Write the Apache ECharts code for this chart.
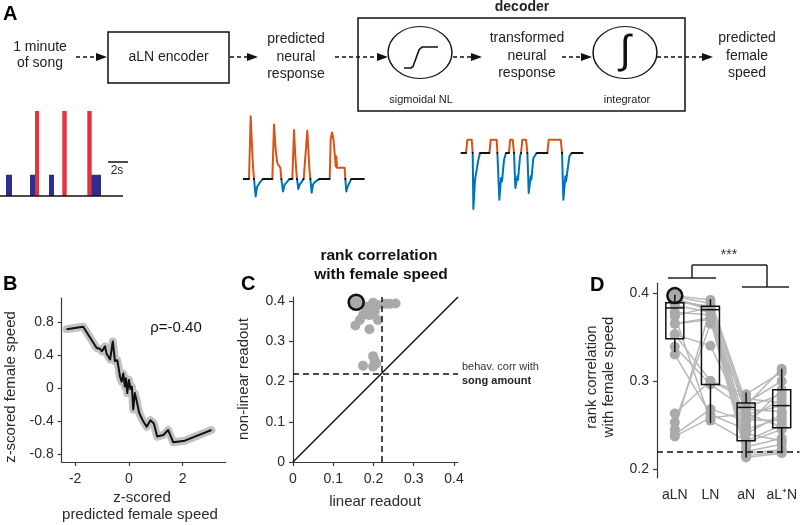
<!DOCTYPE html>
<html>
<head>
<meta charset="utf-8">
<script src="https://cdn.jsdelivr.net/npm/echarts@6.0.0/dist/echarts.min.js"></script>
<style>html,body{margin:0;padding:0;background:#fff;}#chart{width:800px;height:525px;}</style>
</head>
<body>
<div id="chart"></div>
<script>
// ================= DATA =================
// Panel A - song (time in seconds)
const songPulse = [[0.6, 1.2], [3.0, 3.5], [4.9, 5.4], [9.07, 10.1]];
const songSine = [[3.5, 3.9], [6.23, 6.67], [8.73, 9.17]];
const pulseLevel = 0.25;
const sineLevel = 1.0;
const songDuration = 12.3;
const scaleBarSeconds = 2;

// Panel A - predicted neural response (time s, response a.u.)
const neuralT = [0, 0.6, 0.767, 0.9, 1.0, 1.1, 1.267, 1.4, 1.5, 1.667, 2.0, 2.933, 3.1, 3.267, 3.4, 3.5, 3.633, 3.733, 3.833, 4.0, 4.167, 4.333, 4.667, 4.933, 5.1, 5.233, 5.333, 5.4, 5.533, 5.667, 5.833, 6.067, 6.233, 6.433, 6.567, 6.667, 6.733, 6.867, 7.0, 7.167, 7.667, 8.667, 8.767, 8.9, 9.033, 9.167, 9.267, 9.333, 9.4, 10.167, 10.233, 10.333, 10.467, 10.6, 10.833, 12.167];
const neuralV = [0, 0, 1.0, 0.52, 0.20, 0, -0.28, -0.13, -0.11, -0.06, 0, 0, 0.87, 0.47, 0.28, 0.23, 0.20, 0.18, 0, -0.20, -0.09, -0.06, 0, 0, 0.78, 0.36, 0.12, 0, -0.16, -0.09, -0.06, 0, 0, 0.77, 0.36, 0.10, 0, -0.22, -0.09, -0.05, 0, 0, 0.63, 0.74, 0.65, 0.41, 0.20, 0.36, 0.18, 0.18, 0, -0.20, -0.12, -0.09, 0, 0];

// Panel A - transformed neural response
const transT = [0, 0.533, 0.667, 1.1, 1.2, 1.267, 1.433, 1.6, 1.767, 1.933, 2.867, 3.0, 3.6, 3.667, 3.867, 4.033, 4.133, 4.333, 4.533, 4.833, 4.933, 5.2, 5.333, 5.467, 5.667, 5.733, 5.933, 6.033, 6.167, 6.533, 6.667, 6.8, 7.0, 7.067, 7.267, 7.6, 8.667, 8.8, 10.0, 10.133, 10.267, 10.467, 10.533, 10.867, 11.1, 12.267];
const transV = [0, 0, 13.3, 13.3, 0, -56, -26.7, -25, -6.7, 0, 0, 13.3, 13.3, 0, -46.7, -25, -28.3, -6.7, 0, 0, 13.3, 13.3, 0, -35, -23.3, -26.7, -3.3, 0, 13.3, 13.3, 0, -40, -23.3, -26.7, -5, 0, 0, 13.3, 13.3, 0, -46.7, -23.3, -28.3, -3.3, 0, 0];

// Panel B
const bX = [-2.32, -1.70, -1.20, -1.08, -1.00, -0.89, -0.83, -0.70, -0.60, -0.52, -0.43, -0.33, -0.27, -0.21, -0.15, -0.11, -0.06, 0.00, 0.06, 0.11, 0.16, 0.22, 0.28, 0.38, 0.51, 0.66, 0.80, 0.93, 1.05, 1.28, 1.46, 1.65, 2.08, 3.07];
const bY = [0.72, 0.75, 0.49, 0.48, 0.45, 0.51, 0.42, 0.35, 0.57, 0.33, 0.34, 0.14, 0.08, 0.18, 0.02, 0.12, -0.06, 0.10, -0.01, 0.02, -0.26, -0.06, -0.14, -0.30, -0.39, -0.47, -0.39, -0.43, -0.59, -0.57, -0.51, -0.66, -0.64, -0.51];
const bXTicks = [-2, 0, 2];
const bYTicks = [-0.8, -0.4, 0, 0.4, 0.8];
const bRho = 'ρ=-0.40';

// Panel C
const cLinear = [0.157, 0.199, 0.211, 0.228, 0.240, 0.255, 0.182, 0.190, 0.174, 0.190, 0.211, 0.166, 0.155, 0.190, 0.182, 0.203, 0.199, 0.203, 0.174, 0.199, 0.207];
const cNonlinear = [0.397, 0.396, 0.390, 0.393, 0.393, 0.394, 0.386, 0.378, 0.365, 0.365, 0.353, 0.353, 0.339, 0.330, 0.374, 0.374, 0.263, 0.253, 0.239, 0.237, 0.245];
const cTicks = [0, 0.1, 0.2, 0.3, 0.4];
const songAmountCorr = 0.218;

// Panel D
const dCategories = ['aLN', 'LN', 'aN', 'aL⁺N'];
const dALN = cNonlinear;
const dLN = [0.392, 0.388, 0.385, 0.383, 0.381, 0.380, 0.378, 0.375, 0.372, 0.370, 0.340, 0.300, 0.296, 0.262, 0.255, 0.384, 0.300, 0.365, 0.268, 0.258, 0.382];
const dAN = [0.275, 0.270, 0.262, 0.250, 0.240, 0.230, 0.225, 0.220, 0.218, 0.215, 0.256, 0.280, 0.268, 0.245, 0.232, 0.213, 0.285, 0.272, 0.255, 0.263, 0.240];
const dALpN = [0.300, 0.285, 0.272, 0.290, 0.262, 0.245, 0.235, 0.228, 0.222, 0.220, 0.255, 0.275, 0.265, 0.258, 0.250, 0.218, 0.310, 0.314, 0.280, 0.248, 0.232];
const dBoxMin = [0.333, 0.252, 0.213, 0.218];
const dBoxQ1 = [0.348, 0.296, 0.232, 0.247];
const dBoxMed = [0.383, 0.381, 0.270, 0.272];
const dBoxQ3 = [0.389, 0.385, 0.275, 0.290];
const dBoxMax = [0.398, 0.393, 0.287, 0.314];
const dYTicks = [0.2, 0.3, 0.4];
const highlightIndex = 0;

// ================= CHART =================
const FONT = '"Liberation Sans", Arial, Helvetica, sans-serif';
const AX = '#3a3a3a';
const TXT = '#2a2a2a';
const ORANGE = '#D95319', BLUE = '#0072BD';
const PT = '#aaaaaa';

const fmt = v => (Math.abs(v) < 1e-9 ? '0' : String(+v.toFixed(2)));

function valAxis(gi, min, max, ticks, extra) {
  return Object.assign({
    type: 'value', gridIndex: gi, min: min, max: max,
    axisLine: { show: true, onZero: false, lineStyle: { color: AX, width: 1.2 } },
    axisTick: { show: true, inside: false, length: 4, customValues: ticks, lineStyle: { color: AX, width: 1.2 } },
    axisLabel: { show: true, color: TXT, fontSize: 14, fontFamily: FONT, margin: 8, customValues: ticks, formatter: fmt },
    splitLine: { show: false }
  }, extra || {});
}
function hidAxis(gi, min, max) {
  return { type: 'value', gridIndex: gi, min: min, max: max, show: false, splitLine: { show: false } };
}

const grids = [
  { left: 0, top: 111, width: 130, height: 85 },          // song
  { left: 243, top: 110, width: 122, height: 94 },        // neural
  { left: 460.7, top: 133, width: 123, height: 80 },      // transformed
  { left: 61.7, top: 298, width: 164, height: 164 },      // B
  { left: 293, top: 297, width: 165, height: 165 },       // C
  { left: 657, top: 283.3, width: 143, height: 194.5 }    // D
];

const xAxes = [
  hidAxis(0, 0, 13),
  hidAxis(1, 0, 12.2),
  hidAxis(2, 0, 12.3),
  valAxis(3, -2.5, 3.6, bXTicks, { axisLabel: { color: TXT, fontSize: 14, fontFamily: FONT, margin: 10, customValues: bXTicks, formatter: fmt } }),
  valAxis(4, 0, 0.41, cTicks, { axisLabel: { color: TXT, fontSize: 14, fontFamily: FONT, margin: 10, customValues: cTicks, formatter: fmt } }),
  { type: 'category', gridIndex: 5, data: dCategories, axisLine: { show: false }, axisTick: { show: false },
    axisLabel: { color: TXT, fontSize: 14, fontFamily: FONT, margin: 10, interval: 0 }, splitLine: { show: false } }
];
const yAxes = [
  hidAxis(0, 0, 1),
  hidAxis(1, -0.4, 1.1),
  hidAxis(2, -60, 20),
  valAxis(3, -0.9, 1.1, bYTicks),
  valAxis(4, 0, 0.41, cTicks),
  valAxis(5, 0.19, 0.411, dYTicks)
];

const series = [];
function songRect(color) {
  return function (params, api) {
    const p0 = api.coord([api.value(0), 0]);
    const p1 = api.coord([api.value(1), api.value(2)]);
    return { type: 'rect', shape: { x: p0[0], y: p1[1], width: p1[0] - p0[0], height: p0[1] - p1[1] }, style: { fill: color } };
  };
}
series.push({ type: 'custom', xAxisIndex: 0, yAxisIndex: 0, renderItem: songRect('#2c2f8e'), data: songPulse.map(d => [d[0], d[1], pulseLevel]), clip: false });
series.push({ type: 'custom', xAxisIndex: 0, yAxisIndex: 0, renderItem: songRect('#e8313b'), data: songSine.map(d => [d[0], d[1], sineLevel]), clip: false });
series.push({ type: 'line', xAxisIndex: 0, yAxisIndex: 0, data: [[0, 0], [songDuration, 0]], symbol: 'none', clip: false, lineStyle: { color: '#111', width: 1.3 } });
series.push({ type: 'line', xAxisIndex: 0, yAxisIndex: 0, data: [[10.8, 0.4], [10.8 + scaleBarSeconds, 0.4]], symbol: 'none', clip: false, lineStyle: { color: '#111', width: 1.6 } });
const iNeural = series.length;
series.push({ type: 'line', xAxisIndex: 1, yAxisIndex: 1, data: neuralT.map((t, i) => [t, neuralV[i]]), symbol: 'none', clip: false, lineStyle: { width: 2, join: 'round' } });
const iTrans = series.length;
series.push({ type: 'line', xAxisIndex: 2, yAxisIndex: 2, data: transT.map((t, i) => [t, transV[i]]), symbol: 'none', clip: false, lineStyle: { width: 2, join: 'round' } });
// B
series.push({ type: 'line', xAxisIndex: 3, yAxisIndex: 3, data: bX.map((x, i) => [x, bY[i]]), symbol: 'none', lineStyle: { color: '#c2c2c2', width: 8, join: 'round', cap: 'round' } });
series.push({ type: 'line', xAxisIndex: 3, yAxisIndex: 3, data: bX.map((x, i) => [x, bY[i]]), symbol: 'none', lineStyle: { color: '#111', width: 2, join: 'round' } });
// C
series.push({ type: 'line', xAxisIndex: 4, yAxisIndex: 4, data: [[0, 0], [0.41, 0.41]], symbol: 'none', lineStyle: { color: '#111', width: 1.5 } });
series.push({ type: 'scatter', xAxisIndex: 4, yAxisIndex: 4, data: cLinear.map((x, i) => [x, cNonlinear[i]]), symbolSize: 10, itemStyle: { color: PT, opacity: 1 } });
series.push({ type: 'scatter', xAxisIndex: 4, yAxisIndex: 4, data: [[cLinear[highlightIndex], cNonlinear[highlightIndex]]], symbolSize: 15, itemStyle: { color: PT, borderColor: '#111', borderWidth: 2.5, opacity: 1 },
  markLine: { silent: true, symbol: ['none', 'none'], label: { show: false }, animation: false,
    lineStyle: { type: [6, 4], color: '#111', width: 1.5 }, data: [{ yAxis: songAmountCorr }, { xAxis: songAmountCorr }] } });
// D lines
for (let i = 0; i < dALN.length; i++) {
  series.push({ type: 'line', xAxisIndex: 5, yAxisIndex: 5, data: [dALN[i], dLN[i], dAN[i], dALpN[i]], symbol: 'none', lineStyle: { color: '#b8b8b8', width: 1.5 }, z: 2 });
}
const dPts = [];
[dALN, dLN, dAN, dALpN].forEach((arr, c) => arr.forEach(v => dPts.push([c, v])));
series.push({ type: 'scatter', xAxisIndex: 5, yAxisIndex: 5, data: dPts, symbolSize: 10, itemStyle: { color: PT, opacity: 1 }, z: 3 });
series.push({ type: 'scatter', xAxisIndex: 5, yAxisIndex: 5, data: [[0, dALN[highlightIndex]]], symbolSize: 15, itemStyle: { color: PT, borderColor: '#111', borderWidth: 2.5, opacity: 1 }, z: 4,
  markLine: { silent: true, symbol: ['none', 'none'], label: { show: false }, animation: false,
    lineStyle: { type: [6, 4], color: '#111', width: 1.5 }, data: [{ yAxis: songAmountCorr }] } });
series.push({ type: 'custom', xAxisIndex: 5, yAxisIndex: 5, z: 5,
  data: dCategories.map((c, i) => [i, dBoxMin[i], dBoxQ1[i], dBoxMed[i], dBoxQ3[i], dBoxMax[i]]),
  renderItem: function (params, api) {
    const x = api.value(0);
    const pMin = api.coord([x, api.value(1)]), pQ1 = api.coord([x, api.value(2)]), pMed = api.coord([x, api.value(3)]),
      pQ3 = api.coord([x, api.value(4)]), pMax = api.coord([x, api.value(5)]);
    const h = 9, st = { stroke: '#111', lineWidth: 1.5, fill: null };
    return { type: 'group', children: [
      { type: 'line', shape: { x1: pMin[0], y1: pMin[1], x2: pQ1[0], y2: pQ1[1] }, style: st },
      { type: 'line', shape: { x1: pQ3[0], y1: pQ3[1], x2: pMax[0], y2: pMax[1] }, style: st },
      { type: 'rect', shape: { x: pQ1[0] - h, y: pQ3[1], width: 2 * h, height: pQ1[1] - pQ3[1] }, style: { stroke: '#111', lineWidth: 1.5, fill: 'rgba(0,0,0,0)' } },
      { type: 'line', shape: { x1: pMed[0] - h, y1: pMed[1], x2: pMed[0] + h, y2: pMed[1] }, style: st }
    ] };
  }
});

const traceMap = (idx, thr) => ({ type: 'piecewise', show: false, seriesIndex: idx, dimension: 1,
  pieces: [{ gt: thr, color: ORANGE }, { lt: -thr, color: BLUE }, { gte: -thr, lte: thr, color: '#111' }] });

// ----- graphic annotations -----
const G = [];
function txt(x, y, t, o) {
  G.push({ type: 'text', x: x, y: y, rotation: (o && o.rot) || 0, z: 10,
    style: { text: t, fill: (o && o.fill) || '#222', font: ((o && o.weight) || 'normal') + ' ' + ((o && o.size) || 14) + 'px ' + FONT,
      textAlign: (o && o.align) || 'center', textVerticalAlign: 'middle', align: (o && o.align) || 'center', verticalAlign: 'middle' } });
}
function arrow(x1, x2, y) {
  G.push({ type: 'line', z: 10, shape: { x1: x1, y1: y, x2: x2 - 9, y2: y }, style: { stroke: '#111', lineWidth: 1.5, lineDash: [4, 3] } });
  G.push({ type: 'polygon', z: 10, shape: { points: [[x2 - 11, y - 4], [x2, y], [x2 - 11, y + 4]] }, style: { fill: '#111' } });
}
function seg(x1, y1, x2, y2, w) {
  G.push({ type: 'line', z: 10, shape: { x1: x1, y1: y1, x2: x2, y2: y2 }, style: { stroke: '#222', lineWidth: w || 1.5 } });
}
// panel letters
txt(3, 14, 'A', { size: 20, weight: 'bold', align: 'left', fill: '#000' });
txt(3, 284, 'B', { size: 20, weight: 'bold', align: 'left', fill: '#000' });
txt(241, 284, 'C', { size: 20, weight: 'bold', align: 'left', fill: '#000' });
txt(590, 285, 'D', { size: 20, weight: 'bold', align: 'left', fill: '#000' });
// diagram
txt(40, 47, '1 minute'); txt(40, 63, 'of song');
arrow(76, 107, 57);
G.push({ type: 'rect', z: 10, shape: { x: 108, y: 32, width: 121, height: 51 }, style: { fill: 'none', stroke: '#111', lineWidth: 1.5 } });
txt(168.5, 57, 'aLN encoder');
arrow(230, 258, 57);
txt(296, 39, 'predicted'); txt(296, 57, 'neural'); txt(296, 74, 'response');
G.push({ type: 'rect', z: 10, shape: { x: 358, y: 18, width: 327, height: 93 }, style: { fill: 'none', stroke: '#111', lineWidth: 1.5 } });
txt(522, 7, 'decoder', { weight: 'bold' });
arrow(335, 388, 57);
G.push({ type: 'circle', z: 10, x: 420, y: 52.5, scaleX: 1.23, shape: { cx: 0, cy: 0, r: 26 }, style: { fill: 'none', stroke: '#111', lineWidth: 1.2 } });
G.push({ type: 'polyline', z: 10, shape: { points: [[404, 68], [411, 68], [413, 66.5], [419, 50], [422, 47], [438, 47]] }, style: { fill: 'none', stroke: '#111', lineWidth: 1.6 } });
txt(421, 100, 'sigmoidal NL', { size: 11 });
arrow(453, 482, 57);
txt(527, 38, 'transformed'); txt(527, 56, 'neural'); txt(527, 73, 'response');
arrow(562, 592, 57);
G.push({ type: 'circle', z: 10, x: 625, y: 52.5, scaleX: 1.23, shape: { cx: 0, cy: 0, r: 26 }, style: { fill: 'none', stroke: '#111', lineWidth: 1.2 } });
txt(625, 52, '∫', { size: 40, fill: '#111' });
txt(627, 100, 'integrator', { size: 11 });
arrow(657, 713, 57);
txt(747, 38, 'predicted'); txt(747, 56, 'female'); txt(747, 73, 'speed');
txt(117, 171, '2s', { size: 12 });
// panel B texts
txt(11, 387, 'z-scored female speed', { size: 15, rot: Math.PI / 2, fill: TXT });
txt(142, 498, 'z-scored', { size: 15, fill: TXT });
txt(140, 515, 'predicted female speed', { size: 15, fill: TXT });
txt(176, 328, bRho, { size: 15, fill: '#111' });
// panel C texts
txt(379, 256, 'rank correlation', { size: 15.5, weight: 'bold', fill: '#111' });
txt(381, 275, 'with female speed', { size: 15.5, weight: 'bold', fill: '#111' });
txt(244, 379, 'non-linear readout', { size: 15, rot: Math.PI / 2, fill: TXT });
txt(375, 502, 'linear readout', { size: 15, fill: TXT });
txt(462, 367, 'behav. corr with', { size: 11, align: 'left', fill: '#333' });
txt(462, 381, 'song amount', { size: 11, weight: 'bold', align: 'left', fill: '#222' });
// panel D texts + significance bracket
txt(592, 377, 'rank correlation', { size: 15, rot: Math.PI / 2, fill: TXT });
txt(609, 377, 'with female speed', { size: 15, rot: Math.PI / 2, fill: TXT });
txt(729, 255, '***', { size: 14, fill: '#333' });
seg(692, 265, 767, 265); seg(692, 265, 692, 278); seg(767, 265, 767, 287);
seg(668, 278, 716, 278); seg(742, 287, 789, 287);

const option = {
  animation: false,
  backgroundColor: '#fff',
  textStyle: { fontFamily: FONT },
  grid: grids,
  xAxis: xAxes,
  yAxis: yAxes,
  visualMap: [traceMap(iNeural, 0.02), traceMap(iTrans, 1)],
  series: series,
  graphic: { elements: G }
};
const chart = echarts.init(document.getElementById('chart'), null, { renderer: 'canvas' });
chart.setOption(option);
</script>
</body>
</html>
